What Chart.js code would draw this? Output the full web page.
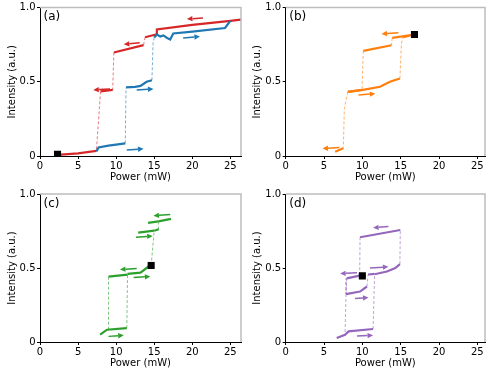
<!DOCTYPE html>
<html>
<head>
<meta charset="utf-8">
<script src="https://cdn.jsdelivr.net/npm/chart.js@4.4.1/dist/chart.umd.min.js"></script>
<style>
  body { margin: 0; background: #fff; }
  #wrap { position: relative; width: 499px; height: 372px; }
  canvas { position: absolute; }
</style>
</head>
<body>
<div id="wrap">
  <canvas id="pa" width="249" height="186" style="left:0;top:0"></canvas>
  <canvas id="pb" width="250" height="186" style="left:249px;top:0"></canvas>
  <canvas id="pc" width="249" height="186" style="left:0;top:186px"></canvas>
  <canvas id="pd" width="250" height="186" style="left:249px;top:186px"></canvas>
</div>
<script>
// (a) red = power going down, blue = power going up
const aRedX = [26.4, 25.0, 20.0, 15.35, 15.35, 13.8, 13.6, 9.7, 9.55, 7.95, 7.8, 7.4, 5.0, 2.3];
const aRedY = [0.918, 0.91, 0.883, 0.852, 0.82, 0.80, 0.747, 0.697, 0.445, 0.435, 0.32, 0.034, 0.018, 0.008];
const aBlueX = [7.4, 7.7, 9.0, 11.2, 11.3, 12.5, 13.2, 14.0, 14.7, 14.85, 15.0, 15.35, 15.8, 16.2, 16.7, 17.1, 17.5, 20.0, 24.3, 25.0];
const aBlueY = [0.03, 0.058, 0.07, 0.085, 0.462, 0.465, 0.472, 0.50, 0.51, 0.758, 0.798, 0.818, 0.805, 0.812, 0.795, 0.785, 0.825, 0.838, 0.862, 0.91];
const aStart = [2.3, 0.011];
const aArrows = [
  ['#d62728', 21.4, 0.93, 19.3, 0.922], ['#d62728', 13.1, 0.762, 11.0, 0.752], ['#d62728', 9.2, 0.452, 7.0, 0.445],
  ['#1f77b4', 18.8, 0.795, 21.0, 0.805], ['#1f77b4', 12.7, 0.445, 14.9, 0.452], ['#1f77b4', 11.4, 0.04, 13.6, 0.048]
];

// (b)
const bX = [8.1, 9.9, 12.3, 13.6, 14.9, 15.1, 15.3, 16.8, 13.9, 13.8, 10.13, 9.95, 8.1, 7.65, 7.52, 6.45];
const bY = [0.432, 0.444, 0.466, 0.50, 0.522, 0.758, 0.80, 0.818, 0.795, 0.746, 0.708, 0.446, 0.432, 0.32, 0.052, 0.029];
const bStart = [16.8, 0.818];
const bArrows = [[14.7, 0.83, 12.5, 0.822], [9.5, 0.41, 11.7, 0.42], [7.0, 0.057, 4.8, 0.05]];

// (c)
const cX = [7.9, 8.8, 11.4, 11.5, 13.2, 14.25, 14.6, 15.0, 15.6, 15.55, 17.2, null, 12.9, 15.0, null, 14.2, 15.55, null, 9.0, 9.0, 11.5];
const cY = [0.05, 0.083, 0.094, 0.46, 0.469, 0.51, 0.517, 0.752, 0.762, 0.815, 0.832, null, 0.739, 0.752, null, 0.805, 0.815, null, 0.083, 0.442, 0.455];
const cStart = [14.6, 0.517];
const cArrows = [[17.1, 0.862, 14.9, 0.853], [12.6, 0.708, 14.8, 0.716], [12.7, 0.497, 10.5, 0.49], [12.3, 0.435, 14.5, 0.443], [9.0, 0.038, 11.0, 0.045]];

// (d)
const dX = [6.65, 7.74, 8.2, 11.4, 11.6, 13.2, 14.3, 14.9, 14.95, 9.7, 9.65, 7.96, 7.87, 9.7, 10.6, 10.75, 11.6, null, 7.87, 7.74];
const dY = [0.027, 0.049, 0.072, 0.088, 0.458, 0.476, 0.50, 0.526, 0.757, 0.708, 0.448, 0.43, 0.324, 0.341, 0.375, 0.456, 0.46, null, 0.324, 0.049];
const dStart = [10.0, 0.447];
const dArrows = [[13.4, 0.78, 11.4, 0.772], [11.0, 0.5, 13.4, 0.508], [9.3, 0.468, 7.1, 0.462], [9.05, 0.294, 10.8, 0.3], [9.3, 0.04, 11.4, 0.045]];

const FONT = 'DejaVu Sans';

function fade(hex, a) {
  const n = parseInt(hex.slice(1), 16);
  return `rgba(${n >> 16},${(n >> 8) & 255},${n & 255},${a})`;
}

// steep, short steps are the switching jumps -> thin dashed
function isJump(ctx) {
  const dy = Math.abs(ctx.p1.parsed.y - ctx.p0.parsed.y);
  const dx = Math.abs(ctx.p1.parsed.x - ctx.p0.parsed.x);
  return dy > 0.04 && dx < 0.6;
}

function lineSet(xs, ys, color) {
  return {
    data: xs.map((x, i) => ({ x: x, y: ys[i] })),
    showLine: true,
    borderColor: color,
    borderWidth: 2.2,
    pointRadius: 0,
    order: 1,
    segment: {
      borderDash: ctx => isJump(ctx) ? [3, 2] : undefined,
      borderWidth: ctx => isJump(ctx) ? 1 : undefined,
      borderColor: ctx => isJump(ctx) ? fade(color, 0.6) : undefined
    }
  };
}

function makePanel(id, o) {
  const datasets = o.lines.map(l => lineSet(l[0], l[1], l[2]));
  datasets.push({
    data: [{ x: o.start[0], y: o.start[1] }],
    pointStyle: 'rect', pointRadius: 5,
    backgroundColor: '#000', borderColor: '#000', borderWidth: 0,
    order: 0
  });

  const extras = {
    id: 'extras',
    afterDatasetsDraw(chart) {
      const c = chart.ctx, xs = chart.scales.x, ys = chart.scales.y;
      c.save();
      o.arrows.forEach(a => {
        const col = a.length === 5 ? a[0] : o.lines[0][2];
        const v = a.length === 5 ? a.slice(1) : a;
        const x0 = xs.getPixelForValue(v[0]), y0 = ys.getPixelForValue(v[1]);
        const x1 = xs.getPixelForValue(v[2]), y1 = ys.getPixelForValue(v[3]);
        const ang = Math.atan2(y1 - y0, x1 - x0);
        const hl = 5.5, hw = 2.7;
        const bx = x1 - hl * Math.cos(ang), by = y1 - hl * Math.sin(ang);
        c.strokeStyle = col; c.fillStyle = col; c.lineWidth = 1.5;
        c.beginPath(); c.moveTo(x0, y0); c.lineTo(bx, by); c.stroke();
        c.beginPath();
        c.moveTo(x1, y1);
        c.lineTo(bx + hw * Math.sin(ang), by - hw * Math.cos(ang));
        c.lineTo(bx - hw * Math.sin(ang), by + hw * Math.cos(ang));
        c.closePath(); c.fill();
      });
      // light top / right spines
      const ca = chart.chartArea;
      c.strokeStyle = '#bdbdbd'; c.lineWidth = 1.5;
      c.beginPath();
      c.moveTo(ca.left, ca.top); c.lineTo(ca.right, ca.top); c.lineTo(ca.right, ca.bottom);
      c.stroke();
      c.fillStyle = '#000';
      c.font = '12px "' + FONT + '"';
      c.textBaseline = 'top';
      c.fillText(o.label, ca.left + 3.5, ca.top + 3.5);
      c.restore();
    }
  };

  const tickFont = { family: FONT, size: 10 };
  new Chart(document.getElementById(id), {
    type: 'scatter',
    data: { datasets: datasets },
    options: {
      responsive: false,
      animation: false,
      layout: { padding: { top: o.top, right: o.right, left: 0, bottom: 0 } },
      plugins: { legend: { display: false }, tooltip: { enabled: false } },
      scales: {
        x: {
          type: 'linear', min: 0, max: o.xMax,
          afterFit: s => { s.height = 30; },
          ticks: { stepSize: 5, includeBounds: false, padding: 1, color: '#000', font: tickFont, maxRotation: 0 },
          grid: { drawOnChartArea: false, tickLength: 3, color: '#000' },
          border: { color: '#000', width: 1 },
          title: { display: true, text: 'Power (mW)', color: '#000', font: tickFont, padding: { top: 0, bottom: 3 } }
        },
        y: {
          min: 0, max: 1,
          afterFit: s => { s.width = o.yw; },
          ticks: {
            stepSize: 0.5, padding: 1.5, color: '#000', font: tickFont,
            callback: v => v === 0 ? '0' : v.toFixed(1)
          },
          grid: { drawOnChartArea: false, tickLength: 3, color: '#000' },
          border: { color: '#000', width: 1 },
          title: { display: true, text: 'Intensity (a.u.)', color: '#000', font: tickFont, padding: { top: o.tp, bottom: 0 } }
        }
      }
    },
    plugins: [extras]
  });
}

makePanel('pa', { label: '(a)', top: 7, right: 8, yw: 40, tp: 6, xMax: 26.4,
  lines: [[aBlueX, aBlueY, '#1f77b4'], [aRedX, aRedY, '#d62728']], start: aStart, arrows: aArrows });
makePanel('pb', { label: '(b)', top: 7, right: 14, yw: 36.7, tp: 2.3, xMax: 26.0,
  lines: [[bX, bY, '#ff7f0e']], start: bStart, arrows: bArrows });
makePanel('pc', { label: '(c)', top: 8, right: 8, yw: 40, tp: 6, xMax: 26.4,
  lines: [[cX, cY, '#2ca02c']], start: cStart, arrows: cArrows });
makePanel('pd', { label: '(d)', top: 8, right: 14, yw: 36.7, tp: 2.3, xMax: 26.0,
  lines: [[dX, dY, '#9467bd']], start: dStart, arrows: dArrows });
</script>
</body>
</html>
